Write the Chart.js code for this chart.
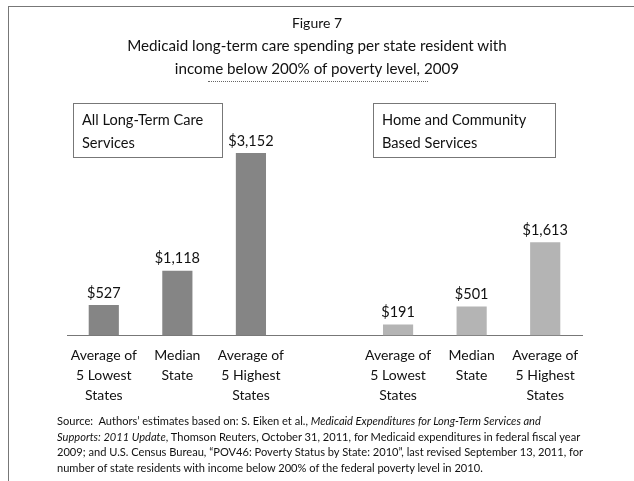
<!DOCTYPE html>
<html>
<head>
<meta charset="utf-8">
<script src="https://cdn.jsdelivr.net/npm/chart.js@4/dist/chart.umd.min.js"></script>
<style>
  html, body { margin: 0; padding: 0; background: #fff; }
  body { width: 634px; height: 481px; position: relative; overflow: hidden; font-family: Lato, "Open Sans", sans-serif; color: #111; }
  #c { position: absolute; left: 0; top: 0; }
  .abs { position: absolute; white-space: nowrap; }
  .frameTop { left: 8px; top: 6px; width: 626px; height: 0; border-top: 1px solid #777; }
  .frameLeft { left: 8px; top: 6px; width: 0; height: 475px; border-left: 1px solid #777; }
  .t0 { left: 0; width: 634px; top: 14px; text-align: center; font-size: 14px; line-height: 18px; }
  .t1 { left: 0; width: 634px; top: 34px; text-align: center; font-size: 15.2px; line-height: 22.5px; }
  .uline { left: 208px; top: 81px; width: 220px; height: 0; border-top: 1px dotted #666; }
  .box { border: 1px solid #777; font-size: 14.6px; line-height: 23px; padding: 4px 8px; box-sizing: border-box; }
  .src { left: 57px; top: 413px; font-size: 11.1px; line-height: 15.5px; }
</style>
</head>
<body>
<canvas id="c" width="634" height="481"></canvas>
<div class="abs frameTop"></div>
<div class="abs frameLeft"></div>
<div class="abs t0">Figure 7</div>
<div class="abs t1">Medicaid long-term care spending per state resident with<br>income below 200% of poverty level, 2009</div>
<div class="abs uline"></div>
<div class="abs box" style="left:73px;top:103px;width:150px;height:55px;">All Long-Term Care<br>Services</div>
<div class="abs box" style="left:373px;top:103px;width:183px;height:55px;">Home and Community<br>Based Services</div>
<div class="abs src">Source:&nbsp; Authors’ estimates based on: S. Eiken et al., <i>Medicaid Expenditures for Long-Term Services and</i><br><i>Supports: 2011 Update</i>, Thomson Reuters, October 31, 2011, for Medicaid expenditures in federal fiscal year<br>2009; and U.S. Census Bureau, “POV46: Poverty Status by State: 2010”, last revised September 13, 2011, for<br>number of state residents with income below 200% of the federal poverty level in 2010.</div>
<script>
const categories = [
  ["Average of", "5 Lowest", "States"],
  ["Median", "State"],
  ["Average of", "5 Highest", "States"],
  "",
  ["Average of", "5 Lowest", "States"],
  ["Median", "State"],
  ["Average of", "5 Highest", "States"]
];
const allLongTermCare = [527, 1118, 3152];
const homeCommunityBased = [191, 501, 1613];
const values = [...allLongTermCare, null, ...homeCommunityBased];
const barColors = ["#858585", "#858585", "#858585", "#fff", "#b4b4b4", "#b4b4b4", "#b4b4b4"];

const valueLabels = {
  id: 'valueLabels',
  afterDatasetsDraw(chart) {
    const ctx = chart.ctx;
    const meta = chart.getDatasetMeta(0);
    ctx.save();
    ctx.font = '14.5px Lato, "Open Sans", sans-serif';
    ctx.fillStyle = '#111';
    ctx.textAlign = 'center';
    ctx.textBaseline = 'middle';
    meta.data.forEach((el, i) => {
      const v = chart.data.datasets[0].data[i];
      if (v == null) return;
      ctx.fillText('$' + v.toLocaleString('en-US'), el.x, el.y - 12);
    });
    ctx.restore();
  }
};

new Chart(document.getElementById('c'), {
  type: 'bar',
  data: {
    labels: categories,
    datasets: [{ data: values, backgroundColor: barColors, barPercentage: 0.41, categoryPercentage: 1 }]
  },
  options: {
    responsive: false,
    animation: false,
    events: [],
    layout: { padding: { left: 67, right: 52, top: 104, bottom: 65.5 } },
    plugins: { legend: { display: false }, tooltip: { enabled: false }, title: { display: false } },
    scales: {
      x: {
        grid: { display: false, drawTicks: false },
        border: { display: true, color: '#777', width: 1, dash: [1, 1] },
        ticks: { padding: 10, color: '#111', maxRotation: 0, autoSkip: false, font: { family: 'Lato, "Open Sans", sans-serif', size: 14, lineHeight: 1.42 } },
        afterFit(s) { s.height = 80; }
      },
      y: { display: false, min: 0, max: 4000 }
    }
  },
  plugins: [valueLabels]
});
</script>
</body>
</html>
